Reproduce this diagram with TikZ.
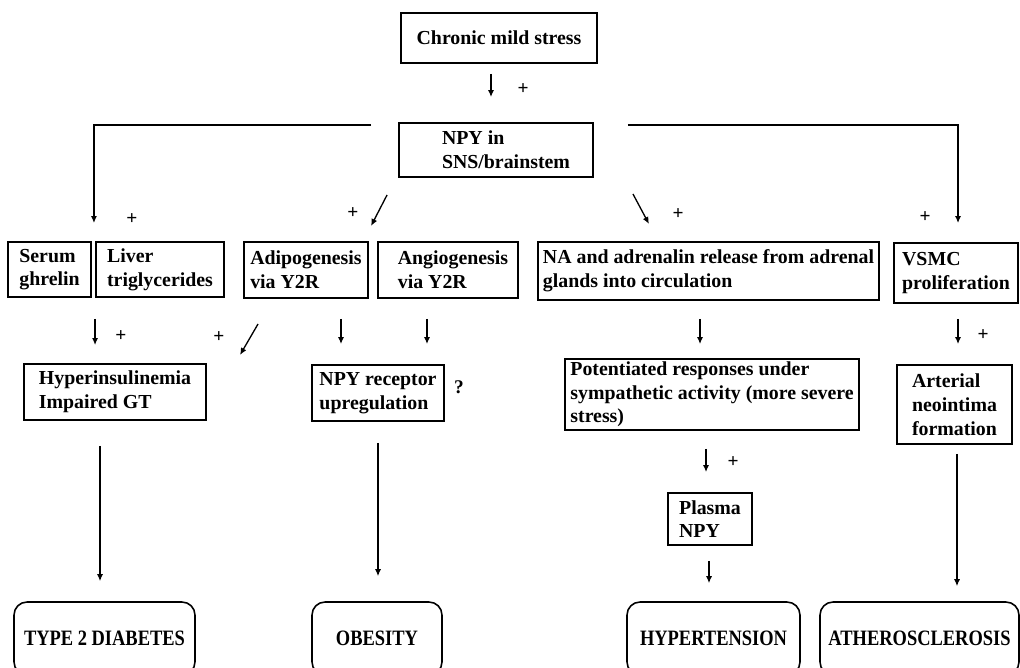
\documentclass[tikz,border=0pt]{standalone}
\usepackage{fontspec}
\setmainfont{Liberation Serif}
\newfontfamily\capsfont[FakeStretch=0.84]{Liberation Serif}
\usetikzlibrary{arrows.meta}

\begin{document}
\begin{tikzpicture}[x=0.02cm,y=-0.02cm,
  box/.style={draw,line width=1.1pt,align=left,inner sep=0pt,
    font=\fontsize{11.3}{13.5}\selectfont\bfseries},
  endbox/.style={draw,line width=0.9pt,rounded corners=0.26cm,inner sep=0pt,
    minimum height=1.46cm,font=\capsfont\fontsize{12.5}{14}\selectfont\bfseries},
  arr/.style={line width=0.75pt,-{Latex[length=4pt,width=3.5pt]}},
  sign/.style={inner sep=0pt,font=\fontsize{11}{11}\selectfont\bfseries}]
  \useasboundingbox (0,0) rectangle (1020,668);
  \clip (0,0) rectangle (1020,668);
  % top of the cascade
  \node[box,minimum width=3.92cm,minimum height=1.0cm] (stress) at (499,38) {Chronic mild stress};
  \node[box,minimum width=3.88cm,minimum height=1.08cm] (npy) at (496,150) {\hspace*{0.4cm}NPY in\\\hspace*{0.4cm}SNS/brainstem};
  % first row of effects
  \node[box,minimum width=1.66cm,minimum height=1.1cm] (serum) at (49.5,269.5) {Serum\\ghrelin};
  \node[box,minimum width=2.56cm,minimum height=1.1cm] (liver) at (160,269.5) {Liver\\triglycerides};
  \node[box,minimum width=2.48cm,minimum height=1.12cm] (adipo) at (306,270) {Adipogenesis\\via Y2R};
  \node[box,minimum width=2.8cm,minimum height=1.12cm] (angio) at (448,270) {\hspace*{0.2cm}Angiogenesis\\\hspace*{0.2cm}via Y2R};
  \node[box,minimum width=6.82cm,minimum height=1.16cm] (release) at (708.5,271) {NA and adrenalin release from adrenal\\glands into circulation};
  \node[box,minimum width=2.48cm,minimum height=1.2cm] (vsmc) at (956,273) {VSMC\\proliferation};
  % second row
  \node[box,minimum width=3.64cm,minimum height=1.12cm] (hyper) at (115,392) {Hyperinsulinemia\\Impaired GT};
  \node[box,minimum width=2.64cm,minimum height=1.12cm] (receptor) at (378,393) {NPY receptor\\upregulation};
  \node[box,minimum width=5.88cm,minimum height=1.42cm] (potent) at (712,394.5) {Potentiated responses under\\sympathetic activity (more severe\\stress)};
  \node[box,minimum width=2.3cm,minimum height=1.58cm] (arterial) at (954.5,404.5) {Arterial\\neointima\\formation};
  \node[box,minimum width=1.68cm,minimum height=1.04cm] (plasma) at (710,519) {Plasma\\NPY};
  % outcomes
  \node[endbox,minimum width=3.62cm] (diabetes) at (104.5,638.5) {TYPE 2 DIABETES};
  \node[endbox,minimum width=2.6cm] (obesity) at (377,638.5) {OBESITY};
  \node[endbox,minimum width=3.46cm] (hypertension) at (713.5,638.5) {HYPERTENSION};
  \node[endbox,minimum width=3.98cm] (athero) at (919.5,638.5) {ATHEROSCLEROSIS};
  % signs
  \node[sign] (s1) at (523,89) {+};
  \node[sign] (s2) at (132,219) {+};
  \node[sign] (s3) at (353,213) {+};
  \node[sign] (s4) at (678,214) {+};
  \node[sign] (s5) at (925,217) {+};
  \node[sign] (s6) at (121,336) {+};
  \node[sign] (s7) at (219,337) {+};
  \node[sign] (s8) at (983,335) {+};
  \node[sign] (s9) at (733,462) {+};
  \node[sign] (query) at (459,387) {?};
  % stress to NPY
  \draw[arr,shorten <=0.2cm,shorten >=0.5cm] (stress.south -| 491,0) -- (npy.north -| 491,0);
  % branches out of NPY
  \draw[arr] (npy.north west) ++(-27,3) -| ([shift={(2,-18)}]serum.north east);
  \draw[arr] (npy.north east) ++(34,3) -| ([shift={(2,-19)}]vsmc.north);
  \draw[arr] (npy.south west) ++(-11,17) -- ++(-16,31);
  \draw[arr] (npy.south east) ++(39,16) -- ++(16,30);
  % first row down to second row
  \draw[arr,shorten <=0.42cm,shorten >=0.36cm] (liver.south west) -- (hyper.north -| liver.south west);
  \draw[arr] (adipo.south west) ++(15,25) -- ++(-18,31);
  \draw[arr,shorten <=0.4cm,shorten >=0.4cm] (adipo.south -| 341,0) -- (receptor.north -| 341,0);
  \draw[arr,shorten <=0.4cm,shorten >=0.4cm] (angio.south -| 427,0) -- (receptor.north -| 427,0);
  \draw[arr,shorten <=0.36cm,shorten >=0.28cm] (release.south -| 700,0) -- (potent.north -| 700,0);
  \draw[arr,shorten <=0.3cm,shorten >=0.4cm] (vsmc.south -| 958,0) -- (arterial.north -| 958,0);
  % down to the outcomes
  \draw[arr,shorten <=0.5cm,shorten >=0.4cm] (hyper.south -| 100,0) -- (diabetes.north -| 100,0);
  \draw[arr,shorten <=0.42cm,shorten >=0.5cm] (receptor.south -| 378,0) -- (obesity.north -| 378,0);
  \draw[arr,shorten <=0.36cm,shorten >=0.4cm] (potent.south -| 706,0) -- (plasma.north -| 706,0);
  \draw[arr,shorten <=0.3cm,shorten >=0.36cm] (plasma.south -| 709,0) -- (hypertension.north -| 709,0);
  \draw[arr,shorten <=0.18cm,shorten >=0.3cm] (arterial.south -| 957,0) -- (athero.north -| 957,0);
\end{tikzpicture}
\end{document}
